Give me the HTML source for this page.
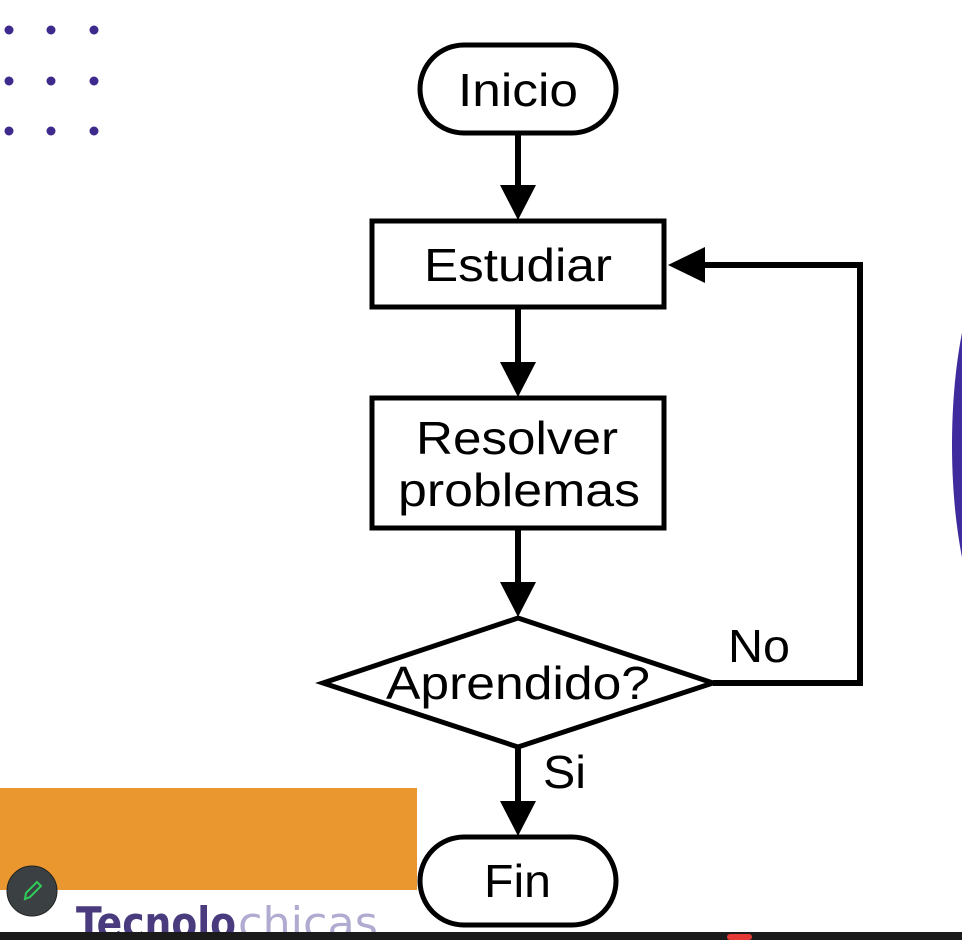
<!DOCTYPE html>
<html><head><meta charset="utf-8"><style>
html,body{margin:0;padding:0;background:#fff;width:962px;height:940px;overflow:hidden}
svg{display:block}
text{font-family:"Liberation Sans",sans-serif;fill:#000}
</style></head><body>
<svg width="962" height="940" viewBox="0 0 962 940">
<g fill="#3e2a8c">
<circle cx="9" cy="30" r="4.5"/><circle cx="51" cy="30" r="4.5"/><circle cx="94" cy="30" r="4.5"/>
<circle cx="9" cy="81" r="4.5"/><circle cx="51" cy="81" r="4.5"/><circle cx="94" cy="81" r="4.5"/>
<circle cx="9" cy="131" r="4.5"/><circle cx="51" cy="131" r="4.5"/><circle cx="94" cy="131" r="4.5"/>
</g>
<ellipse cx="1010" cy="445" rx="58" ry="200" fill="#3f2a9e"/>
<rect x="0" y="788" width="417" height="102" fill="#eb9730"/>
<text x="76" y="938" font-size="44" font-weight="bold" style="fill:#4a3a7e;font-family:'DejaVu Sans',sans-serif" textLength="160" lengthAdjust="spacingAndGlyphs">Tecnolo</text>
<text x="238" y="938" font-size="44" style="fill:#b0abd0;font-family:'DejaVu Sans',sans-serif" textLength="140" lengthAdjust="spacingAndGlyphs">chicas</text>
<circle cx="32" cy="891" r="25" fill="#3b4043" stroke="#222" stroke-width="1"/>
<path d="M25 899 L26 893 L37 882 L41 886 L30 897 Z" fill="none" stroke="#2ecc5a" stroke-width="2"/>
<g stroke="#000" stroke-width="5" fill="#fff">
<rect x="420" y="45" width="196" height="88" rx="44"/>
<rect x="372" y="221" width="292" height="86"/>
<rect x="372" y="398" width="292" height="130"/>
<polygon points="323,683 518,618 713,683 518,747"/>
<rect x="420" y="837" width="196" height="88" rx="44"/>
</g>
<g stroke="#000" stroke-width="6" fill="none">
<line x1="518" y1="133" x2="518" y2="190"/>
<line x1="518" y1="307" x2="518" y2="365"/>
<line x1="518" y1="528" x2="518" y2="585"/>
<line x1="518" y1="747" x2="518" y2="805"/>
<polyline points="713,683 860,683 860,265 700,265"/>
</g>
<g fill="#000">
<polygon points="500,185 536,185 518,220"/>
<polygon points="500,362 536,362 518,397"/>
<polygon points="500,582 536,582 518,617"/>
<polygon points="500,801 536,801 518,836"/>
<polygon points="705,247 705,283 668,265"/>
</g>
<g font-size="46" lengthAdjust="spacingAndGlyphs">
<text x="458" y="106" textLength="120" lengthAdjust="spacingAndGlyphs">Inicio</text>
<text x="424" y="281" textLength="188" lengthAdjust="spacingAndGlyphs">Estudiar</text>
<text x="416" y="454" textLength="202" lengthAdjust="spacingAndGlyphs">Resolver</text>
<text x="398" y="506" textLength="242" lengthAdjust="spacingAndGlyphs">problemas</text>
<text x="386" y="699" textLength="264" lengthAdjust="spacingAndGlyphs">Aprendido?</text>
<text x="484" y="897" textLength="67" lengthAdjust="spacingAndGlyphs">Fin</text>
<text x="728" y="662" textLength="62" lengthAdjust="spacingAndGlyphs">No</text>
<text x="543" y="788" textLength="43" lengthAdjust="spacingAndGlyphs">Si</text>
</g>
<rect x="0" y="932" width="962" height="8" fill="#1b1b1b"/>
<rect x="727" y="934" width="25" height="6" rx="3" fill="#e53935"/>
</svg>
</body></html>
